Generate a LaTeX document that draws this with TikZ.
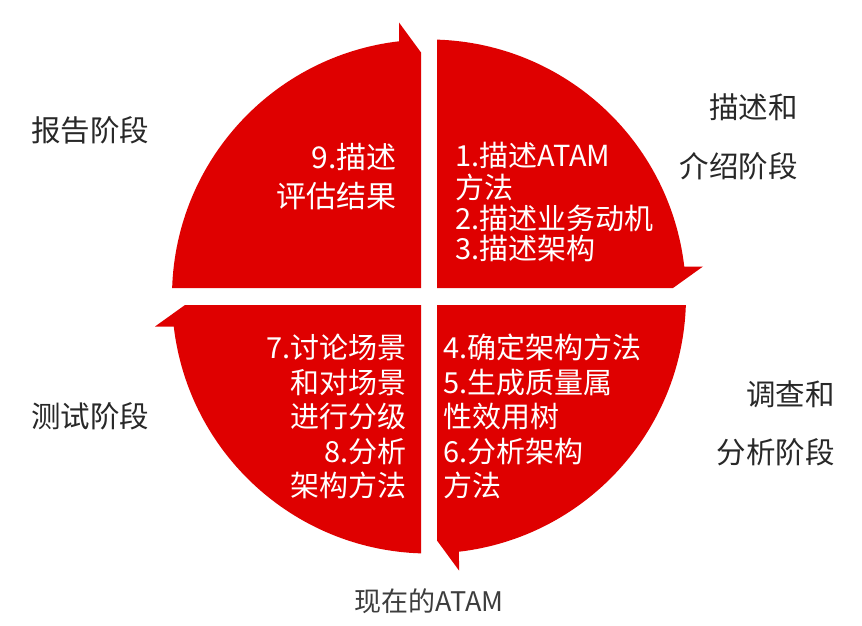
\documentclass[tikz,border=0pt]{standalone}
\usepackage{fontspec}
\newfontfamily\cjk{Noto Sans CJK SC}
\definecolor{atamred}{RGB}{223,0,0}
\definecolor{labelgray}{RGB}{40,40,40}
\begin{document}
\begin{tikzpicture}[x=1pt,y=1pt,
  quad/.style={fill=atamred,draw=none},
  intext/.style={text=white,inner sep=0pt,font=\cjk\fontsize{29}{29}\selectfont},
  bigintext/.style={text=white,inner sep=0pt,font=\cjk\fontsize{30}{30}\selectfont},
  outtext/.style={text=labelgray,inner sep=0pt,font=\cjk\fontsize{29.5}{29.5}\selectfont},
  captext/.style={text=labelgray!90!white,inner sep=0pt,font=\cjk\fontsize{27}{27}\selectfont}]
\useasboundingbox[fill=white] (0,0) rectangle (862,-626);
\coordinate (C) at (429,-296.5);
\begin{scope}[shift={(C)}]
  % top-right quadrant, arrow pointing down at its right end
  \fill[quad] (8,8.5) -- (8,256.88) arc[start angle=88.22, end angle=6.70, radius=257pt]
    -- (274,30) -- (244,8.5) -- cycle;
  % bottom-right quadrant, arrow pointing left at its bottom end
  \fill[quad] (8,-8.5) -- (256.86,-8.5) arc[start angle=-1.90, end angle=-83.30, radius=257pt]
    -- (30,-274) -- (8,-244) -- cycle;
  % bottom-left quadrant, arrow pointing up at its left end
  \fill[quad] (-8,-8.5) -- (-8,-256.88) arc[start angle=268.22, end angle=186.70, radius=257pt]
    -- (-274,-30) -- (-244,-8.5) -- cycle;
  % top-left quadrant, arrow pointing right at its top end
  \fill[quad] (-8,8.5) -- (-256.86,8.5) arc[start angle=178.10, end angle=96.70, radius=257pt]
    -- (-30,274) -- (-8,244) -- cycle;
\end{scope}
% top-left text
\node[bigintext,anchor=base east] (tl1) at (397,-168.5) {9.描述};
\node[bigintext,anchor=base east] (tl2) at (397,-207) {评估结果};
% top-right text
\node[intext,anchor=base west] (tr1) at (455,-166.5) {1.描述ATAM};
\node[intext,anchor=base west] (tr2) at (455,-198) {方法};
\node[intext,anchor=base west] (tr3) at (455,-229) {2.描述业务动机};
\node[intext,anchor=base west] (tr4) at (455,-259) {3.描述架构};
% bottom-left text
\node[intext,anchor=base east] (bl1) at (407,-358.5) {7.讨论场景};
\node[intext,anchor=base east] (bl2) at (407,-393.5) {和对场景};
\node[intext,anchor=base east] (bl3) at (407,-427.5) {进行分级};
\node[intext,anchor=base east] (bl4) at (407,-462.5) {8.分析};
\node[intext,anchor=base east] (bl5) at (407,-496.5) {架构方法};
% bottom-right text
\node[intext,anchor=base west] (br1) at (443,-358.5) {4.确定架构方法};
\node[intext,anchor=base west] (br2) at (443,-393.5) {5.生成质量属};
\node[intext,anchor=base west] (br3) at (443,-427.5) {性效用树};
\node[intext,anchor=base west] (br4) at (443,-462.5) {6.分析架构};
\node[intext,anchor=base west] (br5) at (443,-496.5) {方法};
% phase labels
\node[outtext,anchor=base west] (report) at (31,-141) {报告阶段};
\node[outtext,anchor=base west] (test) at (31,-427) {测试阶段};
\node[outtext,anchor=base east] (desc1) at (798,-118) {描述和};
\node[outtext,anchor=base east] (desc2) at (798,-177) {介绍阶段};
\node[outtext,anchor=base east] (inv1) at (835,-405) {调查和};
\node[outtext,anchor=base east] (inv2) at (835,-463) {分析阶段};
\node[captext,anchor=base] (caption) at (429,-611) {现在的ATAM};
\end{tikzpicture}
\end{document}
